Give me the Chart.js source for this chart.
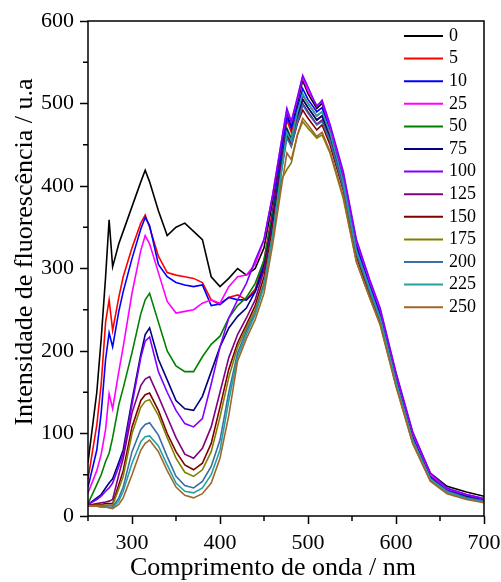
<!DOCTYPE html>
<html lang="pt">
<head>
<meta charset="UTF-8" />
<title>Intensidade de fluorescência</title>
<script src="https://cdn.jsdelivr.net/npm/chart.js@4"></script>
<style>
  html, body { margin: 0; padding: 0; background: #ffffff; }
  #wrap { width: 501px; height: 582px; position: relative; }
</style>
</head>
<body>
<div id="wrap"><canvas id="chart" width="501" height="582"></canvas></div>
<script>
// wavelength grid (nm) shared by every spectrum
const wavelength = [250, 260, 265, 270, 274, 278, 285, 290, 300, 310, 315, 320, 330, 340, 350, 360, 370, 380, 390, 400,
  410, 420, 430, 440, 450, 460, 470, 476, 481, 488, 494, 500, 510, 516, 525, 540, 555, 570, 582, 600, 619, 639, 658, 680, 700];

const s0 = [65, 150, 215, 290, 359, 302, 330, 345, 375, 405, 419, 405, 370, 340, 350, 355, 345, 335, 290, 278,
  288, 300, 292, 300, 325, 382, 450, 488, 472, 500, 528, 512, 494, 500, 472, 414, 330, 283, 248, 172, 100, 52, 36, 29, 24];
const s5 = [45, 110, 160, 235, 262, 225, 265, 290, 325, 355, 365, 350, 315, 295, 292, 290, 288, 283, 262, 256,
  265, 268, 262, 275, 310, 372, 440, 480, 465, 490, 510, 500, 485, 490, 462, 405, 322, 278, 242, 165, 95, 48, 32, 25, 20];
const s10 = [35, 80, 125, 190, 222, 205, 248, 272, 312, 348, 362, 352, 305, 290, 283, 280, 278, 280, 255, 257,
  265, 262, 262, 272, 305, 368, 442, 485, 470, 495, 518, 505, 490, 495, 468, 408, 326, 280, 244, 167, 96, 48, 32, 24, 20];
const s25 = [28, 55, 75, 105, 148, 130, 175, 205, 270, 322, 340, 330, 295, 260, 246, 248, 250, 258, 262, 258,
  278, 290, 292, 305, 335, 390, 455, 492, 478, 505, 532, 515, 498, 502, 472, 415, 333, 285, 250, 172, 100, 50, 33, 26, 21];
const s50 = [15, 38, 50, 66, 76, 95, 135, 155, 198, 245, 262, 270, 235, 200, 182, 175, 175, 193, 208, 218,
  240, 255, 265, 282, 310, 365, 432, 470, 458, 485, 505, 495, 480, 485, 458, 400, 320, 275, 240, 163, 93, 46, 30, 23, 18];
const s75 = [14, 22, 26, 34, 40, 45, 65, 80, 140, 196, 220, 228, 190, 165, 140, 130, 128, 145, 175, 205,
  228, 242, 252, 272, 300, 360, 430, 468, 455, 483, 505, 495, 480, 485, 458, 400, 320, 274, 240, 163, 93, 46, 30, 23, 18];
const s100 = [14, 20, 24, 30, 34, 40, 60, 75, 135, 192, 212, 217, 175, 150, 128, 112, 108, 118, 160, 205,
  240, 262, 282, 310, 335, 390, 455, 494, 478, 508, 534, 520, 496, 504, 475, 418, 335, 287, 252, 174, 102, 52, 34, 26, 21];
const s125 = [13, 15, 16, 17, 18, 20, 50, 70, 125, 158, 166, 169, 145, 120, 95, 75, 70, 82, 108, 150,
  192, 220, 240, 262, 298, 355, 428, 465, 452, 480, 500, 490, 475, 480, 455, 398, 318, 272, 238, 162, 92, 45, 30, 22, 18];
const s150 = [12, 14, 14, 15, 15, 15, 38, 55, 108, 140, 147, 149, 128, 100, 78, 62, 56, 64, 88, 132,
  178, 210, 232, 255, 290, 350, 422, 462, 448, 476, 492, 482, 468, 474, 450, 395, 315, 268, 235, 160, 90, 44, 29, 22, 17];
const s175 = [12, 13, 13, 13, 13, 13, 33, 48, 100, 132, 139, 141, 122, 95, 70, 53, 48, 56, 78, 120,
  168, 205, 228, 250, 283, 340, 408, 420, 428, 462, 478, 470, 458, 462, 440, 385, 308, 265, 232, 158, 88, 43, 28, 21, 17];
const s200 = [12, 12, 12, 11, 11, 11, 22, 35, 78, 105, 111, 113, 98, 72, 48, 37, 34, 42, 60, 92,
  150, 198, 224, 246, 280, 342, 418, 458, 448, 478, 498, 488, 474, 478, 455, 398, 318, 272, 238, 162, 92, 45, 30, 22, 18];
const s225 = [12, 12, 11, 11, 10, 10, 18, 30, 64, 90, 96, 97, 85, 62, 40, 30, 28, 34, 50, 80,
  140, 193, 220, 244, 278, 342, 420, 465, 455, 490, 512, 500, 485, 490, 465, 405, 322, 276, 240, 163, 92, 45, 29, 21, 17];
const s250 = [12, 12, 11, 11, 10, 9, 14, 22, 50, 80, 88, 92, 78, 55, 35, 25, 22, 27, 40, 70,
  122, 188, 215, 238, 270, 330, 400, 440, 432, 462, 482, 474, 460, 465, 442, 388, 308, 265, 232, 157, 88, 42, 27, 20, 16];

const seriesLabels = ['0', '5', '10', '25', '50', '75', '100', '125', '150', '175', '200', '225', '250'];
const seriesValues = [s0, s5, s10, s25, s50, s75, s100, s125, s150, s175, s200, s225, s250];
const seriesColors = ['#000000', '#ff0000', '#0000ff', '#ff00ff', '#008000', '#000080', '#8000ff',
  '#800080', '#800000', '#808000', '#3a6ea5', '#22a3a3', '#a0662c'];

const xMajorTicks = [300, 400, 500, 600, 700];
const xMinorTicks = [250, 350, 450, 550, 650];
const yMinorTicks = [50, 150, 250, 350, 450, 550];

const xTitle = 'Comprimento de onda / nm';
const yTitle = 'Intensidade de fluorescência / u.a';

const FONT = "'Liberation Serif', 'Times New Roman', serif";

// frame, minor ticks, axis titles and the in-plot legend
const decorations = {
  id: 'decorations',
  afterDraw(chart) {
    const { ctx, chartArea: a, scales } = chart;
    ctx.save();
    ctx.strokeStyle = '#000';
    ctx.lineWidth = 1.5;
    ctx.strokeRect(a.left, a.top, a.right - a.left, a.bottom - a.top);

    ctx.beginPath();
    xMinorTicks.forEach(v => {
      const px = scales.x.getPixelForValue(v);
      ctx.moveTo(px, a.bottom);
      ctx.lineTo(px, a.bottom + 5);
    });
    yMinorTicks.forEach(v => {
      const py = scales.y.getPixelForValue(v);
      ctx.moveTo(a.left, py);
      ctx.lineTo(a.left - 5, py);
    });
    ctx.stroke();

    ctx.fillStyle = '#000';
    ctx.font = '26px ' + FONT;
    ctx.textAlign = 'center';
    ctx.textBaseline = 'alphabetic';
    ctx.fillText(xTitle, 273, 575);
    ctx.save();
    ctx.translate(32, 252);
    ctx.rotate(-Math.PI / 2);
    ctx.fillText(yTitle, 0, 0);
    ctx.restore();

    ctx.font = '18px ' + FONT;
    ctx.textAlign = 'left';
    ctx.textBaseline = 'middle';
    seriesLabels.forEach((lab, i) => {
      const y = 36 + i * 22.6;
      ctx.beginPath();
      ctx.strokeStyle = seriesColors[i];
      ctx.lineWidth = 2;
      ctx.moveTo(404, y);
      ctx.lineTo(443, y);
      ctx.stroke();
      ctx.fillText(lab, 449, y);
    });
    ctx.restore();
  }
};

new Chart(document.getElementById('chart'), {
  type: 'line',
  data: {
    labels: wavelength,
    datasets: seriesLabels.map((lab, i) => ({
      label: lab,
      data: wavelength.map((w, j) => ({ x: w, y: seriesValues[i][j] })),
      borderColor: seriesColors[i],
      borderWidth: 1.6,
      pointRadius: 0,
      tension: 0,
      fill: false
    })).reverse()
  },
  options: {
    responsive: false,
    animation: false,
    layout: { padding: { top: 21, right: 17, left: 0, bottom: 0 } },
    plugins: { legend: { display: false }, tooltip: { enabled: false } },
    scales: {
      x: {
        type: 'linear',
        min: 250,
        max: 700,
        afterBuildTicks: s => { s.ticks = xMajorTicks.map(v => ({ value: v })); },
        afterFit: s => { s.height = 66; s.paddingLeft = 0; s.paddingRight = 0; },
        grid: { drawOnChartArea: false, drawTicks: true, tickLength: 8, tickColor: '#000', tickWidth: 1.5 },
        border: { display: false },
        ticks: { color: '#000', font: { family: FONT, size: 22 }, padding: 6, maxRotation: 0 }
      },
      y: {
        min: 0,
        max: 600,
        ticks: { stepSize: 100, color: '#000', font: { family: FONT, size: 22 }, padding: 6 },
        afterFit: s => { s.width = 88; s.paddingTop = 0; s.paddingBottom = 0; },
        grid: { drawOnChartArea: false, drawTicks: true, tickLength: 8, tickColor: '#000', tickWidth: 1.5 },
        border: { display: false }
      }
    }
  },
  plugins: [decorations]
});
</script>
</body>
</html>
